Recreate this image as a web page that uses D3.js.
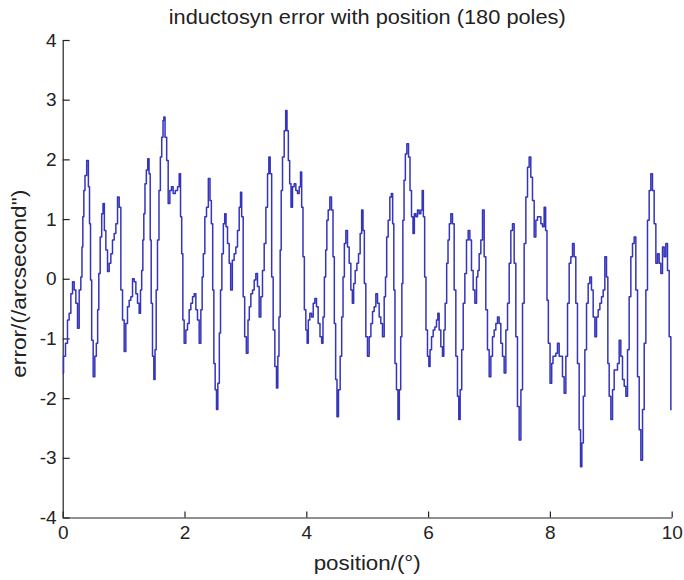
<!DOCTYPE html>
<html>
<head>
<meta charset="utf-8">
<script src="https://cdn.jsdelivr.net/npm/d3@7"></script>
<style>
  body { margin: 0; background: #fff; }
  text { font-family: "Liberation Sans", Arial, sans-serif; fill: #222; }
</style>
</head>
<body>
<div id="lineplot"></div>
<script>
// position along the scale (degrees)
var position = [
  // 0 - 1.66
  0,0.027,0.065,0.092,0.120,0.148,0.175,0.202,0.230,0.257,0.284,0.311,0.322,0.339,0.355,0.377,0.411,0.432,0.449,0.465,
  0.487,0.514,0.541,0.563,0.585,0.601,0.630,0.651,0.673,0.695,0.722,0.750,0.777,0.804,0.831,0.859,0.887,0.914,0.941,0.969,
  0.996,1.023,1.050,1.078,1.105,1.133,1.160,1.188,1.215,1.242,1.269,1.286,1.308,1.324,1.340,1.362,1.385,1.407,1.429,1.445,
  1.461,1.488,1.505,1.527,1.543,1.570,1.592,1.615,1.637,1.658,
  // 1.66 - 3.38
  1.664,1.697,1.718,1.746,1.773,1.800,1.827,1.872,1.899,1.927,1.943,1.965,1.981,2.008,2.036,2.063,2.090,2.118,2.146,2.173,
  2.200,2.227,2.255,2.282,2.298,2.320,2.348,2.375,2.408,2.430,2.452,2.474,2.490,2.517,2.534,2.561,2.583,2.600,2.627,2.649,
  2.671,2.693,2.720,2.747,2.769,2.802,2.829,2.857,2.884,2.912,2.928,2.950,2.977,2.999,3.032,3.053,3.075,3.104,3.131,3.158,
  3.185,3.212,3.240,3.267,3.294,3.323,3.350,3.377,
  // 3.39 - 5.10
  3.393,3.421,3.442,3.470,3.497,3.524,3.541,3.562,3.580,3.596,3.623,3.651,3.672,3.694,3.716,3.738,3.760,3.787,3.815,3.842,
  3.870,3.897,3.913,3.935,3.957,3.979,4.006,4.022,4.044,4.072,4.100,4.127,4.154,4.181,4.209,4.241,4.263,4.285,4.308,4.329,
  4.346,4.373,4.400,4.428,4.449,4.471,4.493,4.515,4.542,4.570,4.592,4.614,4.636,4.663,4.690,4.718,4.745,4.767,4.788,4.817,
  4.844,4.871,4.898,4.920,4.942,4.964,4.991,5.018,5.047,5.074,5.101,
  // 5.13 - 6.81
  5.128,5.156,5.183,5.210,5.237,5.265,5.293,5.309,5.331,5.358,5.386,5.407,5.429,5.445,5.467,5.494,5.516,5.539,5.561,5.577,
  5.594,5.616,5.637,5.665,5.692,5.714,5.741,5.763,5.786,5.813,5.840,5.867,5.895,5.911,5.933,5.954,5.976,6.004,6.021,6.043,
  6.070,6.097,6.124,6.152,6.168,6.195,6.223,6.250,6.266,6.294,6.316,6.338,6.360,6.387,6.414,6.442,6.469,6.496,6.512,6.541,
  6.563,6.590,6.617,6.644,6.672,6.699,6.726,6.754,6.782,6.809,
  // 6.83 - 8.41
  6.825,6.852,6.880,6.907,6.934,6.961,6.989,7.017,7.044,7.071,7.099,7.126,7.153,7.180,7.208,7.235,7.263,7.291,7.318,7.345,
  7.372,7.400,7.427,7.454,7.481,7.510,7.537,7.564,7.591,7.619,7.646,7.673,7.700,7.728,7.756,7.783,7.810,7.838,7.865,7.892,
  7.919,7.941,7.963,7.986,8.019,8.040,8.062,8.084,8.111,8.138,8.166,8.193,8.220,8.248,8.276,8.303,8.330,8.358,8.385,8.412,
  // 8.44 - 10
  8.439,8.466,8.495,8.511,8.538,8.560,8.588,8.615,8.642,8.669,8.696,8.725,8.752,8.779,8.807,8.834,8.861,8.888,8.916,8.943,
  8.960,8.987,9.015,9.042,9.069,9.096,9.124,9.151,9.178,9.206,9.234,9.261,9.288,9.315,9.343,9.370,9.397,9.425,9.453,9.480,
  9.507,9.535,9.562,9.589,9.616,9.644,9.671,9.698,9.726,9.754,9.781,9.808,9.835,9.863,9.890,9.917,9.945,9.972,10.000
]

// error in arcseconds at each position
var error = [
  -1.58,-1.30,-1.08,-0.69,-0.58,-0.25,-0.05,-0.19,-0.41,-0.83,-0.19,0.03,0.53,1.04,1.48,1.73,1.98,1.54,0.92,-0.02,
  -1.03,-1.64,-1.30,-1.08,-0.52,0.09,0.70,1.09,1.26,0.81,0.48,0.12,0.26,0.42,0.65,0.76,0.92,1.37,1.20,-0.19,
  -0.69,-1.22,-0.75,-0.47,-0.36,-0.30,0.00,-0.05,-0.25,-0.41,-0.58,-0.19,0.14,0.65,1.09,1.59,1.82,2.01,1.76,0.65,
  -0.41,-1.30,-1.69,-1.19,-0.19,0.65,1.48,2.04,2.37,2.65,
  2.71,2.37,1.98,1.26,1.48,1.54,1.43,1.48,1.54,1.76,1.04,0.42,-0.69,-1.08,-0.86,-0.75,-0.52,-0.41,-0.30,-0.25,
  -0.52,-0.69,-1.08,-0.52,0.03,0.42,1.04,1.20,1.68,1.31,0.92,-0.19,-1.42,-1.86,-2.19,-1.75,-0.91,-0.19,0.42,0.92,
  1.09,0.87,0.59,0.26,-0.19,0.31,0.42,0.53,0.81,1.20,1.45,1.04,-0.30,-0.97,-1.25,-0.69,-0.47,-0.25,-0.19,-0.02,
  0.09,-0.13,-0.64,-0.30,0.14,0.59,1.20,1.76,
  2.04,1.76,0.03,-0.86,-1.47,-1.83,-1.30,-0.64,0.48,1.48,2.04,2.48,2.82,2.48,1.98,1.59,1.20,1.54,1.59,1.48,
  1.43,1.54,1.79,1.20,0.37,-0.52,-0.86,-1.08,-0.69,-0.58,-0.64,-0.41,-0.33,-0.47,-0.75,-0.97,-1.08,-0.64,0.03,0.48,
  0.98,1.15,1.37,1.15,0.37,-0.75,-1.69,-2.31,-1.86,-1.30,-0.64,0.03,0.59,0.81,0.53,0.26,-0.19,-0.41,-0.08,0.14,
  0.26,0.42,0.76,1.15,0.81,-0.08,-0.97,-1.30,-0.97,-0.75,-0.55,
  -0.47,-0.25,-0.41,-0.64,-0.75,-0.97,-0.30,0.03,0.70,0.98,1.37,1.43,0.92,-0.19,-1.42,-1.86,-2.36,-1.86,-0.97,-0.08,
  0.98,1.65,2.09,2.26,2.04,1.48,1.04,0.76,1.09,1.04,1.15,1.09,1.15,1.48,1.04,0.03,-0.86,-1.30,-1.47,-1.19,
  -0.97,-0.86,-0.81,-0.69,-0.58,-0.86,-1.14,-1.30,-0.86,-0.41,0.26,0.65,0.92,1.09,0.92,-0.19,-1.30,-1.97,-2.36,-1.86,
  -1.19,-0.41,0.09,0.65,0.81,0.65,0.14,-0.19,-0.41,0.03,
  0.14,0.42,0.65,1.15,0.37,-0.52,-1.19,-1.64,-1.30,-0.97,-0.86,-0.75,-0.64,-0.75,-1.08,-1.30,-1.58,-0.86,-0.41,0.26,
  0.81,0.92,0.26,-0.97,-2.14,-2.70,-1.86,-0.41,0.59,1.37,1.87,2.04,1.70,1.31,0.70,0.98,1.04,1.04,0.92,0.87,
  1.20,0.81,-0.36,-1.08,-1.75,-1.42,-1.30,-1.30,-1.25,-1.08,-1.30,-1.30,-1.64,-1.92,-1.30,-0.41,0.26,0.37,0.59,0.37,
  -0.41,-1.42,-2.53,-3.15,-2.75,-1.97,-1.19,-0.41,-0.08,0.03,-0.19,-0.64,-0.97,-0.64,-0.52,-0.41,-0.30,-0.19,0.37,0.03,
  -1.42,-1.97,-2.36,-1.86,-1.53,-1.53,-1.42,-1.03,-1.30,-1.69,-1.80,-1.97,-1.19,-0.30,0.37,0.59,0.70,-0.19,-1.64,-2.53,
  -3.04,-2.19,-1.08,-0.19,0.98,1.48,1.76,1.48,0.92,0.26,0.42,0.26,0.09,0.53,0.37,0.59,0.14,-0.97,-2.19
]

var xTicks = [0, 2, 4, 6, 8, 10]
var yTicks = [-4, -3, -2, -1, 0, 1, 2, 3, 4]

var chartTitle = "inductosyn error with position (180 poles)"
var xTitle = "position/(\u00B0)"
var yTitle = "error/(/arcsecond\")"

// set the dimensions and margins of the graph
var margin = {top: 40, right: 12.3, bottom: 62.5, left: 62.7},
    width = 684 - margin.left - margin.right,
    height = 580 - margin.top - margin.bottom

var svg = d3.select("#lineplot")
  .append("svg")
    .attr("width", 684)
    .attr("height", 580)
  .append("g")
    .attr("transform", "translate(" + margin.left + "," + margin.top + ")")

var n = Math.min(position.length, error.length)
var data = d3.range(n).map(function(i) { return {pos: position[i], err: error[i]} })

// scales
var x = d3.scaleLinear().domain([0, 10]).range([0, width])
var y = d3.scaleLinear().domain([-4, 4]).range([height, 0])

// axes, ticks pointing inwards like matlab
svg.append("g")
  .attr("transform", "translate(0," + height + ")")
  .call(d3.axisBottom(x).tickValues(xTicks).tickSizeInner(-6).tickSizeOuter(0).tickPadding(8)
    .tickFormat(function(d) { return String(d) }))

svg.append("g")
  .call(d3.axisLeft(y).tickValues(yTicks).tickSizeInner(-7).tickSizeOuter(0).tickPadding(6)
    .tickFormat(function(d) { return String(d) }))

svg.selectAll(".domain, .tick line").attr("stroke", "#222").attr("stroke-width", 1.2)
svg.selectAll(".tick text").style("font-size", "19px").attr("fill", "#222")

// the error trace
var line = d3.line()
  .curve(d3.curveStep)
  .x(function(d) { return x(d.pos) })
  .y(function(d) { return y(d.err) })

svg.append("path")
  .datum(data)
  .attr("fill", "none")
  .attr("stroke", "#3434bd")
  .attr("stroke-width", 1.5)
  .attr("stroke-linejoin", "round")
  .attr("d", line)

// titles
svg.append("text")
  .attr("x", width / 2)
  .attr("y", -16)
  .attr("text-anchor", "middle")
  .style("font-size", "20px")
  .attr("textLength", 397)
  .attr("lengthAdjust", "spacingAndGlyphs")
  .text(chartTitle)

svg.append("text")
  .attr("x", width / 2)
  .attr("y", height + 52)
  .attr("text-anchor", "middle")
  .style("font-size", "20px")
  .attr("textLength", 107)
  .attr("lengthAdjust", "spacingAndGlyphs")
  .text(xTitle)

svg.append("text")
  .attr("transform", "translate(" + (26 - margin.left) + "," + (height / 2 + 5) + ") rotate(-90)")
  .attr("text-anchor", "middle")
  .style("font-size", "20px")
  .attr("textLength", 188)
  .attr("lengthAdjust", "spacingAndGlyphs")
  .text(yTitle)
</script>
</body>
</html>
